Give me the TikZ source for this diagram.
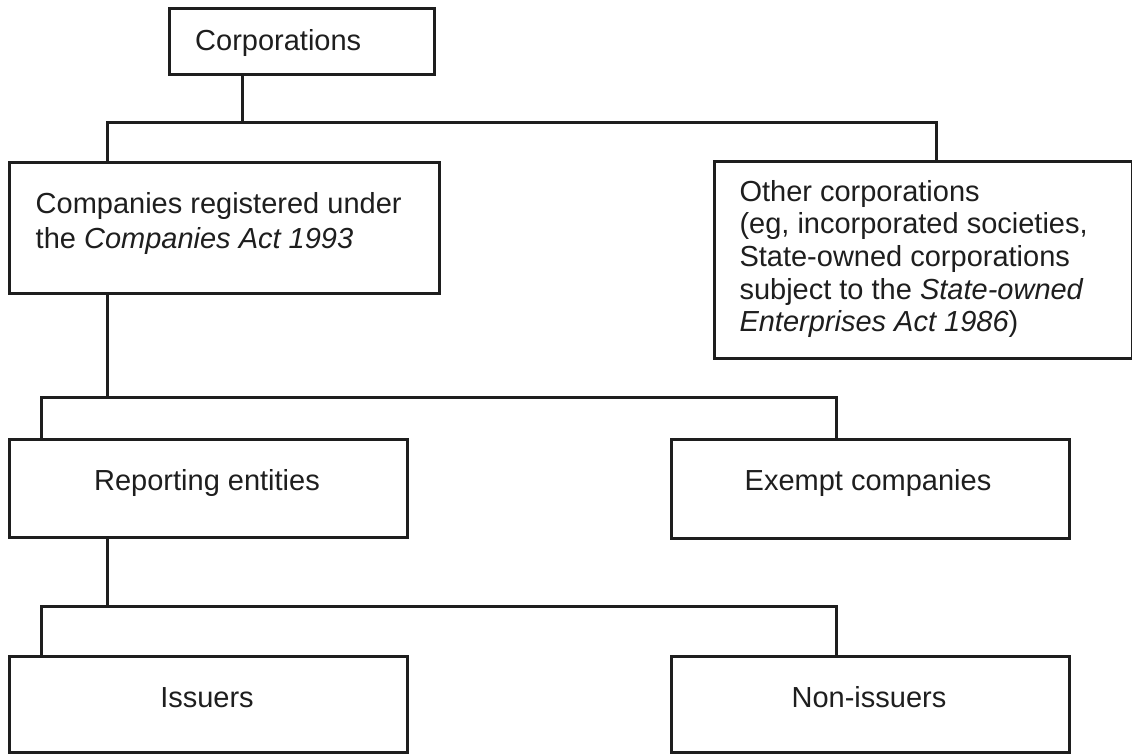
\documentclass[tikz,border=0pt]{standalone}
\usepackage{fontspec}
\setmainfont{Liberation Sans}
\definecolor{ink}{HTML}{1E1E1E}
\begin{document}
\begin{tikzpicture}[x=1pt,y=-1pt,
  boxshape/.style={draw=ink,line width=2.8pt,rectangle,inner sep=0pt,anchor=north west},
  conn/.style={draw=ink,line width=3pt,line join=miter},
  lbl/.style={inner sep=0pt,text=ink,font=\fontsize{29}{35}\selectfont}]
\useasboundingbox[fill=white] (0,0) rectangle (1132,753);
% boxes
\node[boxshape,minimum width=265pt,minimum height=66pt] (corp) at (168,7) {};
\node[boxshape,minimum width=430pt,minimum height=131pt] (comp) at (8,161) {};
\node[boxshape,minimum width=418pt,minimum height=197pt] (other) at (713,160) {};
\node[boxshape,minimum width=398pt,minimum height=98pt] (rep) at (8,438) {};
\node[boxshape,minimum width=398pt,minimum height=99pt] (ex) at (670,438) {};
\node[boxshape,minimum width=398pt,minimum height=96pt] (iss) at (8,655) {};
\node[boxshape,minimum width=398pt,minimum height=96pt] (non) at (670,655) {};
% texts
\node[lbl,anchor=base west] (tcorp) at (195,50) {Corporations};
\node[lbl,anchor=base west] (tcomp) at (35.5,213) {\renewcommand\arraystretch{1}\fontsize{29}{35}\selectfont\begin{tabular}[t]{@{}l@{}}Companies registered under\\the \textit{Companies Act 1993}\end{tabular}};
\node[lbl,anchor=base west] (tother) at (739.3,201) {\renewcommand\arraystretch{1}\fontsize{29}{32.7}\selectfont\begin{tabular}[t]{@{}l@{}}Other corporations\\(eg, incorporated societies,\\State-owned corporations\\subject to the \textit{State-owned}\\\textit{Enterprises Act 1986})\end{tabular}};
\node[lbl,anchor=base] (trep) at (207,490) {Reporting entities};
\node[lbl,anchor=base] (tex) at (868,490) {Exempt companies};
\node[lbl,anchor=base] (tiss) at (207,707) {Issuers};
\node[lbl,anchor=base] (tnon) at (869,707) {Non-issuers};
% junction coordinates
\coordinate (a0) at (242,122);
\coordinate (aL) at (107,122);
\coordinate (aR) at (936,122);
\coordinate (b0) at (107,397);
\coordinate (bL) at (41,397);
\coordinate (bR) at (836,397);
\coordinate (c0) at (107,606);
\coordinate (cL) at (41,606);
\coordinate (cR) at (836,606);
% connectors
\draw[conn] (a0 |- corp.south) -- (a0);
\draw[conn] (aL |- comp.north) -- (aL) -- (aR) -- (aR |- other.north);
\draw[conn] (b0 |- comp.south) -- (b0);
\draw[conn] (bL |- rep.north) -- (bL) -- (bR) -- (bR |- ex.north);
\draw[conn] (c0 |- rep.south) -- (c0);
\draw[conn] (cL |- iss.north) -- (cL) -- (cR) -- (cR |- non.north);
\end{tikzpicture}
\end{document}
